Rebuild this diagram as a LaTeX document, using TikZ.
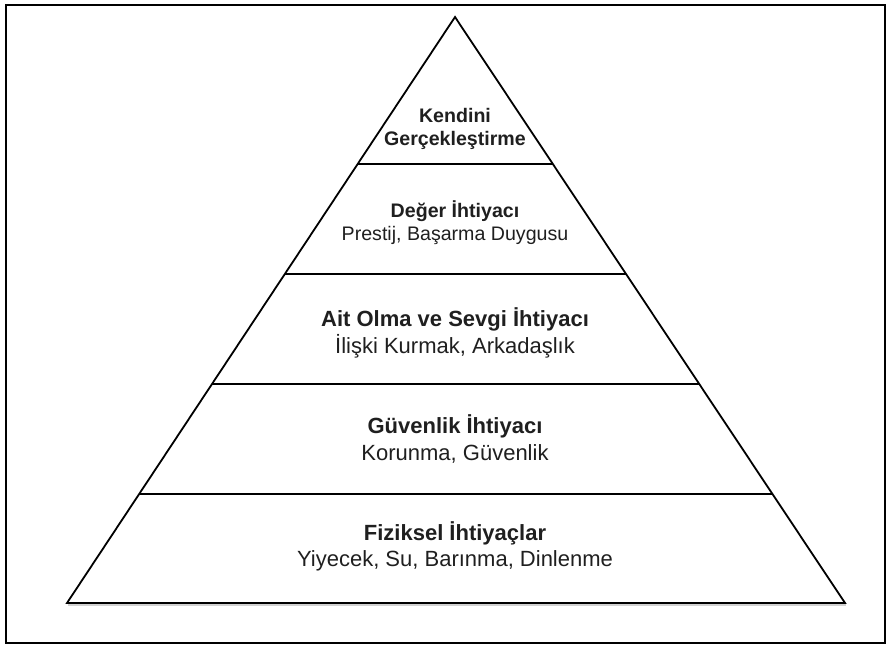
\documentclass[tikz,border=0pt]{standalone}
\usepackage{fontspec}
\setmainfont{Liberation Sans}
\usetikzlibrary{calc}
\tikzset{
  edge/.style={line width=1.8pt, black, line join=miter},
  frame/.style={line width=2pt, black},
  ttl/.style={anchor=base, inner sep=0pt, text=black!88, font=\bfseries\fontsize{22}{26}\selectfont},
  sub/.style={anchor=base, inner sep=0pt, text=black!88, font=\fontsize{22}{26}\selectfont},
  ttls/.style={ttl, font=\bfseries\fontsize{19.6}{23}\selectfont},
  subs/.style={sub, font=\fontsize{19.6}{23}\selectfont}
}
\begin{document}
\begin{tikzpicture}[x=1pt,y=-1pt]
\useasboundingbox (0,0) rectangle (886,645);
\draw[frame] (6,5) rectangle (885,643);
% pyramid corners
\coordinate (A) at (455,17);
\coordinate (BL) at (67,603);
\coordinate (BR) at (845,603);
% level boundaries
\foreach \n/\yy in {1/164,2/274,3/384,4/494}{
  \coordinate (L\n) at ($(A)!{(\yy-17)/586}!(BL)$);
  \coordinate (R\n) at ($(A)!{(\yy-17)/586}!(BR)$);
}
% soft shadow under base
\draw[line width=2.5pt, black!18] ($(BL)+(1,2)$) -- ($(BR)+(1,2)$);
\draw[edge] (BL) -- (A) -- (BR) -- cycle;
\foreach \n in {1,...,4}{
  \draw[edge] (L\n) -- (R\n);
}
% texts
\node[ttls] (t1a) at (455,122.7) {Kendini};
\node[ttls] (t1b) at (455,145) {Gerçekleştirme};
\node[ttls] (t2a) at (455,217.7) {Değer İhtiyacı};
\node[subs] (t2b) at (455,240.7) {Prestij, Başarma Duygusu};
\node[ttl] (t3a) at (455,326) {Ait Olma ve Sevgi İhtiyacı};
\node[sub] (t3b) at (455,353.3) {İlişki Kurmak, Arkadaşlık};
\node[ttl] (t4a) at (455,433.3) {Güvenlik İhtiyacı};
\node[sub] (t4b) at (455,460) {Korunma, Güvenlik};
\node[ttl] (t5a) at (455,540) {Fiziksel İhtiyaçlar};
\node[sub] (t5b) at (455,566.7) {Yiyecek, Su, Barınma, Dinlenme};
\end{tikzpicture}
\end{document}
